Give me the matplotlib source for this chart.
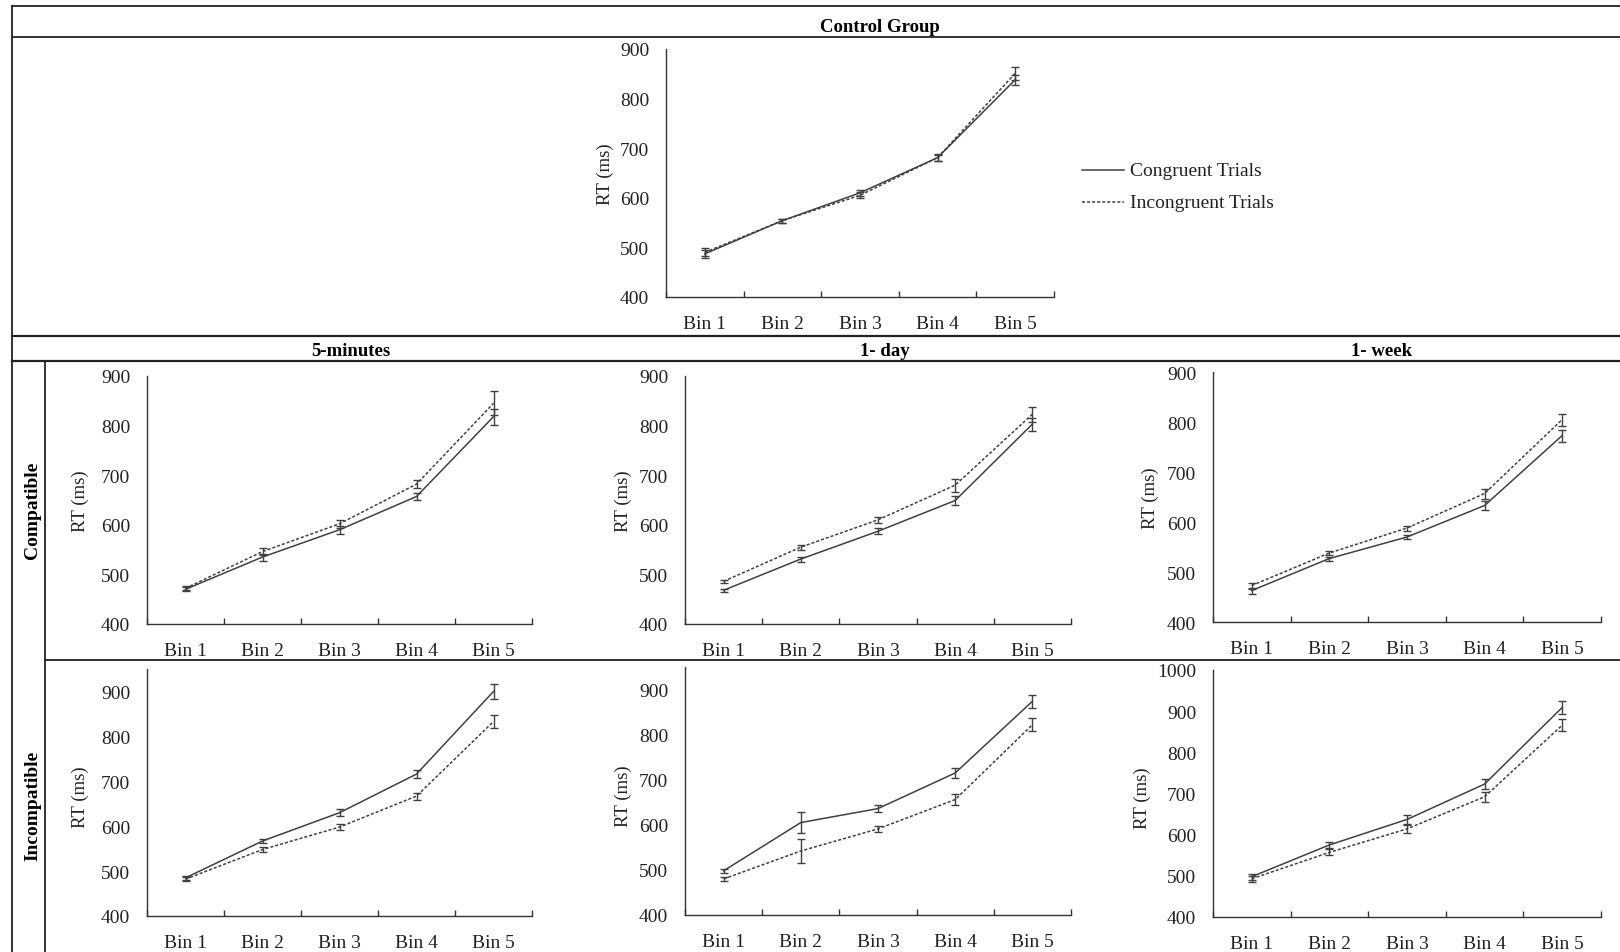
import numpy as np
import matplotlib
matplotlib.use("Agg")
import matplotlib.pyplot as plt
from matplotlib.lines import Line2D

plt.rcParams['font.family'] = ['Liberation Serif', 'DejaVu Serif']

W, H = 1620, 953
bins = ['Bin 1', 'Bin 2', 'Bin 3', 'Bin 4', 'Bin 5']

# control group
ctrl_cong = [487, 554, 610, 681, 838]
ctrl_cong_err = [8, 4, 6, 6, 10]
ctrl_incong = [490, 554, 605, 681, 851]
ctrl_incong_err = [8, 4, 6, 7, 13]

# compatible row: 5-minutes, 1-day, 1-week
comp_cong = [[470, 535, 590, 657, 818],
             [468, 531, 587, 649, 803],
             [463, 527, 570, 633, 773]]
comp_cong_err = [[4, 7, 8, 8, 16],
                 [3, 5, 6, 10, 13],
                 [6, 4, 4, 9, 12]]
comp_incong = [[472, 546, 602, 682, 845],
               [486, 555, 610, 680, 823],
               [473, 538, 588, 657, 805]]
comp_incong_err = [[4, 7, 8, 8, 24],
                   [3, 5, 6, 13, 15],
                   [6, 4, 5, 10, 12]]

# incompatible row
inc_cong = [[485, 567, 630, 716, 900],
            [498, 605, 636, 715, 874],
            [498, 575, 637, 723, 909]]
inc_cong_err = [[5, 5, 8, 8, 17],
                [4, 24, 7, 11, 15],
                [7, 7, 10, 12, 16]]
inc_incong = [[482, 548, 598, 667, 833],
              [480, 542, 591, 656, 822],
              [493, 557, 614, 692, 866]]
inc_incong_err = [[5, 5, 6, 8, 15],
                  [4, 26, 6, 12, 15],
                  [7, 7, 10, 12, 14]]

columns = ['5-minutes', '1- day', '1- week']
rows = ['Compatible', 'Incompatible']
comp_ylim = [(400, 900), (400, 900), (400, 900)]
inc_ylim = [(400, 950), (400, 950), (400, 1000)]

LINE = '#404040'
DASH = (0, (2, 1.3))


def px_axes(fig, x0, x1, ytop, ybot):
    return fig.add_axes([x0 / W, 1 - ybot / H, (x1 - x0) / W, (ybot - ytop) / H])


def draw_panel(ax, cong, cong_err, incong, incong_err, ylim):
    x = np.arange(1, len(bins) + 1)
    ax.errorbar(x, cong, yerr=cong_err, color=LINE, lw=1.1, capsize=3,
                elinewidth=1.0, capthick=1.0)
    ax.errorbar(x, incong, yerr=incong_err, color=LINE, lw=1.1, ls=DASH,
                capsize=3, elinewidth=1.0, capthick=1.0)
    ax.set_xlim(0.5, 5.5)
    ax.set_ylim(*ylim)
    ax.set_yticks(np.arange(ylim[0], ylim[1] + 1, 100))
    ax.set_xticks(x)
    ax.set_xticklabels(bins)
    ax.set_xticks(np.arange(0.5, 6.0, 1.0), minor=True)
    ax.tick_params(axis='x', which='major', length=0, pad=13, labelsize=14,
                   labelcolor='#222222')
    ax.tick_params(axis='x', which='minor', direction='in', length=4.5,
                   width=1, color='#333333')
    ax.tick_params(axis='y', length=0, pad=12, labelsize=14, labelcolor='#222222')
    for s in ['top', 'right']:
        ax.spines[s].set_visible(False)
    for s in ['left', 'bottom']:
        ax.spines[s].set_color('#333333')
        ax.spines[s].set_linewidth(1.0)
    ax.set_facecolor('none')


fig = plt.figure(figsize=(W / 100, H / 100), dpi=100)


def hline(y, x0, x1, lw=1.3):
    fig.add_artist(Line2D([x0 / W, x1 / W], [1 - y / H, 1 - y / H],
                          color='#222222', lw=lw))


def vline(x, y0, y1, lw=1.3):
    fig.add_artist(Line2D([x / W, x / W], [1 - y0 / H, 1 - y1 / H],
                          color='#222222', lw=lw))


def ftext(x, y, s, **kw):
    fig.text(x / W, 1 - y / H, s, **kw)


# table lines
hline(7, 12, W)
hline(38, 12, W)
hline(337, 12, W, lw=1.6)
hline(362, 12, W, lw=1.6)
hline(661, 45, W)
vline(12, 7, H)
vline(45, 362, H)

ftext(880, 27, 'Control Group', ha='center', va='center', fontsize=13.5,
      fontweight='bold')

# control panel
ax = px_axes(fig, 666, 1054, 50, 298)
draw_panel(ax, ctrl_cong, ctrl_cong_err, ctrl_incong, ctrl_incong_err, (400, 900))
ftext(605, 174, 'RT (ms)', rotation=90, ha='center', va='center', fontsize=13.5,
      color='#222222')

# legend
fig.add_artist(Line2D([1082 / W, 1124 / W], [1 - 171 / H] * 2, color=LINE, lw=1.1))
fig.add_artist(Line2D([1082 / W, 1124 / W], [1 - 203 / H] * 2, color=LINE, lw=1.1,
                      ls=DASH))
ftext(1130, 172, 'Congruent Trials', ha='left', va='center', fontsize=14,
      color='#222222')
ftext(1130, 204, 'Incongruent Trials', ha='left', va='center', fontsize=14,
      color='#222222')

# column headers and row labels
col_x = [351, 885, 1382]
for cx, name in zip(col_x, columns):
    ftext(cx, 352, name, ha='center', va='center', fontsize=13.5, fontweight='bold')
ftext(33, 510, rows[0], rotation=90, ha='center', va='center', fontsize=14,
      fontweight='bold')
ftext(33, 806, rows[1], rotation=90, ha='center', va='center', fontsize=14,
      fontweight='bold')

x0s = [147, 685, 1213]
x1s = [532, 1071, 1601]
comp_top = [377, 377, 373]
comp_bot = [625, 625, 623]
inc_top = [670, 668, 671]
inc_bot = [917, 916, 918]
ylab_comp = [80, 623, 1150]
ylab_inc = [80, 623, 1142]

for i in range(3):
    ax = px_axes(fig, x0s[i], x1s[i], comp_top[i], comp_bot[i])
    draw_panel(ax, comp_cong[i], comp_cong_err[i], comp_incong[i],
               comp_incong_err[i], comp_ylim[i])
    ftext(ylab_comp[i], (comp_top[i] + comp_bot[i]) / 2, 'RT (ms)', rotation=90,
          ha='center', va='center', fontsize=13.5, color='#222222')

    ax = px_axes(fig, x0s[i], x1s[i], inc_top[i], inc_bot[i])
    draw_panel(ax, inc_cong[i], inc_cong_err[i], inc_incong[i],
               inc_incong_err[i], inc_ylim[i])
    ftext(ylab_inc[i], (inc_top[i] + inc_bot[i]) / 2 + 4, 'RT (ms)', rotation=90,
          ha='center', va='center', fontsize=13.5, color='#222222')

fig.savefig('out.png', dpi=100, facecolor='white')
